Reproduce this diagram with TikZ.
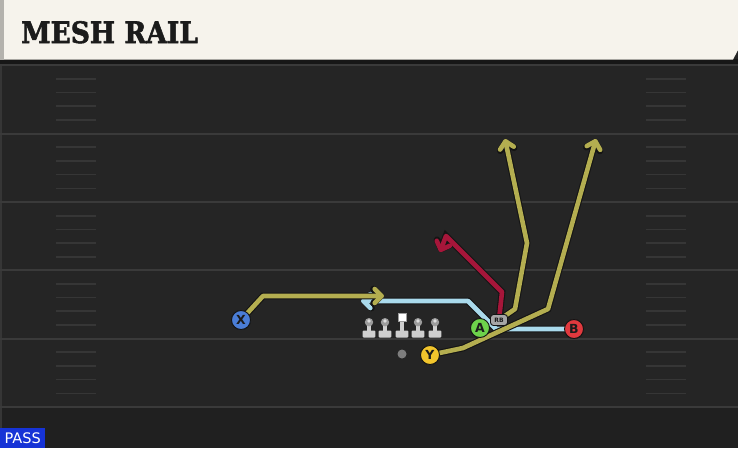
\documentclass[tikz,border=0pt]{standalone}
\usepackage{fontspec}
\setmainfont{DejaVu Sans}
\newfontfamily\titlefont{DejaVu Serif}[BoldFeatures={FakeBold=2}]
\usetikzlibrary{arrows.meta}
\definecolor{bg}{HTML}{252525}
\definecolor{bgdark}{HTML}{202020}
\definecolor{yardc}{HTML}{3A3A3A}
\definecolor{hashc}{HTML}{363636}
\definecolor{cream}{HTML}{F6F3EC}
\definecolor{bevel}{HTML}{B4B2AD}
\definecolor{shadowc}{HTML}{171717}
\definecolor{titlec}{HTML}{1B1B1B}
\definecolor{passblue}{HTML}{1633D6}
\definecolor{olive}{HTML}{B4AE50}
\definecolor{lblue}{HTML}{AADAEC}
\definecolor{crimson}{HTML}{A6163A}
\definecolor{edgec}{HTML}{141414}
\definecolor{pblue}{HTML}{4A7DD6}
\definecolor{pgreen}{HTML}{6DD24B}
\definecolor{pred}{HTML}{E0393E}
\definecolor{pyellow}{HTML}{F2C52C}
\definecolor{lgrey}{HTML}{CFCFCF}
\definecolor{hgrey}{HTML}{9C9C9C}
\definecolor{rbgrey}{HTML}{A6A6A6}
\definecolor{qbgrey}{HTML}{7E7E7E}
\begin{document}
\begin{tikzpicture}[x=1pt,y=-1pt,
  yard/.style={draw=yardc, line width=2pt},
  hash/.style={draw=hashc, line width=1.6pt},
  route/.style={draw=#1, line width=4.6pt, line join=round, line cap=round,
    preaction={draw=edgec, line width=6.8pt}},
  arr/.style={-{Straight Barb[length=7pt,width=14pt,round]}},
  player/.style={circle, draw=edgec, line width=0.9pt, inner sep=0pt,
    minimum size=19pt, fill=#1, text=titlec,
    font=\bfseries\fontsize{12.5}{12.5}\selectfont},
  lineman/.pic={
    \fill[lgrey] (-2.4,-6) rectangle (2.4,0);
    \fill[lgrey, rounded corners=1pt] (-6.3,-0.5) rectangle (6.3,6.5);
    \fill[hgrey] (0,-8.8) circle (4.2);
    \fill[lgrey!70!white] (0,-10) circle (1.8);
  },
  centerman/.pic={
    \fill[lgrey] (-2.4,-10) rectangle (2.4,0);
    \fill[lgrey, rounded corners=1pt] (-6.3,-0.5) rectangle (6.3,6.5);
    \filldraw[fill=white, draw=hgrey, line width=0.8pt] (-4,-17.5) rectangle (4,-10);
  }
]
\useasboundingbox (0,0) rectangle (738,448);
% field
\fill[bg] (0,0) rectangle (738,448);
\fill[bgdark] (0,408) rectangle (738,448);
\fill[yardc!80!bg] (0,60) rectangle (2,448);
\foreach \y in {65,133.5,202,270,338.5,407} \draw[yard] (0,\y) -- (738,\y);
\foreach \y in {65,133.5,202,270,338.5}{
  \foreach \k in {1,2,3,4}{
    \draw[hash] (56,{\y+13.7*\k}) -- (96,{\y+13.7*\k});
    \draw[hash] (646,{\y+13.7*\k}) -- (686,{\y+13.7*\k});
  }
}
% header
\fill[shadowc] (0,59) rectangle (738,64);
\fill[cream] (0,0) -- (738,0) -- (738,50) -- (733,59.5) -- (0,59.5) -- cycle;
\fill[bevel] (0,0) rectangle (4,59.5);
\node[anchor=base west, inner sep=0pt, text=titlec, xscale=0.9,
  font=\titlefont\bfseries\fontsize{29.5}{29.5}\selectfont] (title) at (21,43) {MESH RAIL};
% pass label
\node[anchor=south west, fill=passblue, text=white, inner sep=0pt,
  minimum width=45pt, minimum height=20pt,
  font=\fontsize{14.5}{14.5}\selectfont] (pass) at (0,448) {PASS};
% players (positions)
\node[player=pblue] (X) at (241,320) {X};
\node[player=pgreen] (A) at (480,328) {A};
\node[player=pred] (B) at (574,329) {B};
\node[player=pyellow] (Y) at (430,355) {Y};
\node[inner sep=0pt, minimum width=17pt, minimum height=11pt] (RB) at (499,320) {};
\node[circle, fill=qbgrey, inner sep=0pt, minimum size=9pt] (QB) at (402,354) {};
% route waypoints
\coordinate (x1) at (263,296); \coordinate (xe) at (384,296);
\coordinate (b1) at (496,329); \coordinate (b2) at (468,301); \coordinate (be) at (361,301);
\coordinate (r1) at (502,292); \coordinate (r2) at (446,236); \coordinate (re) at (440,252);
\coordinate (o1) at (515,309); \coordinate (o2) at (527,243); \coordinate (oe) at (505,139);
\coordinate (y1) at (463,348); \coordinate (y2) at (548,309); \coordinate (ye) at (596,139);
% routes
\draw[route=lblue, arr] (B.center) -- (b1) -- (b2) -- (be);
\draw[route=crimson, arr] (RB.center) -- (r1) -- (r2) -- (re);
\draw[route=olive, arr] (RB.center) -- (o1) -- (o2) -- (oe);
\draw[route=olive, arr] (Y.center) -- (y1) -- (y2) -- (ye);
\draw[route=olive, arr] (X.center) -- (x1) -- (xe);
% players on top
\node[player=pblue] at (X) {X};
\node[player=pgreen] at (A) {A};
\node[player=pred] at (B) {B};
\node[player=pyellow] at (Y) {Y};
\node[fill=rbgrey, draw=edgec, line width=0.9pt, rounded corners=3pt, inner sep=0pt,
  minimum width=17pt, minimum height=11pt, text=titlec,
  font=\bfseries\fontsize{6}{6}\selectfont] at (RB) {RB};
% line
\pic (L1) at (369,331) {lineman};
\pic (L2) at (385,331) {lineman};
\pic (C) at (402,331) {centerman};
\pic (L4) at (418,331) {lineman};
\pic (L5) at (435,331) {lineman};
\end{tikzpicture}
\end{document}
